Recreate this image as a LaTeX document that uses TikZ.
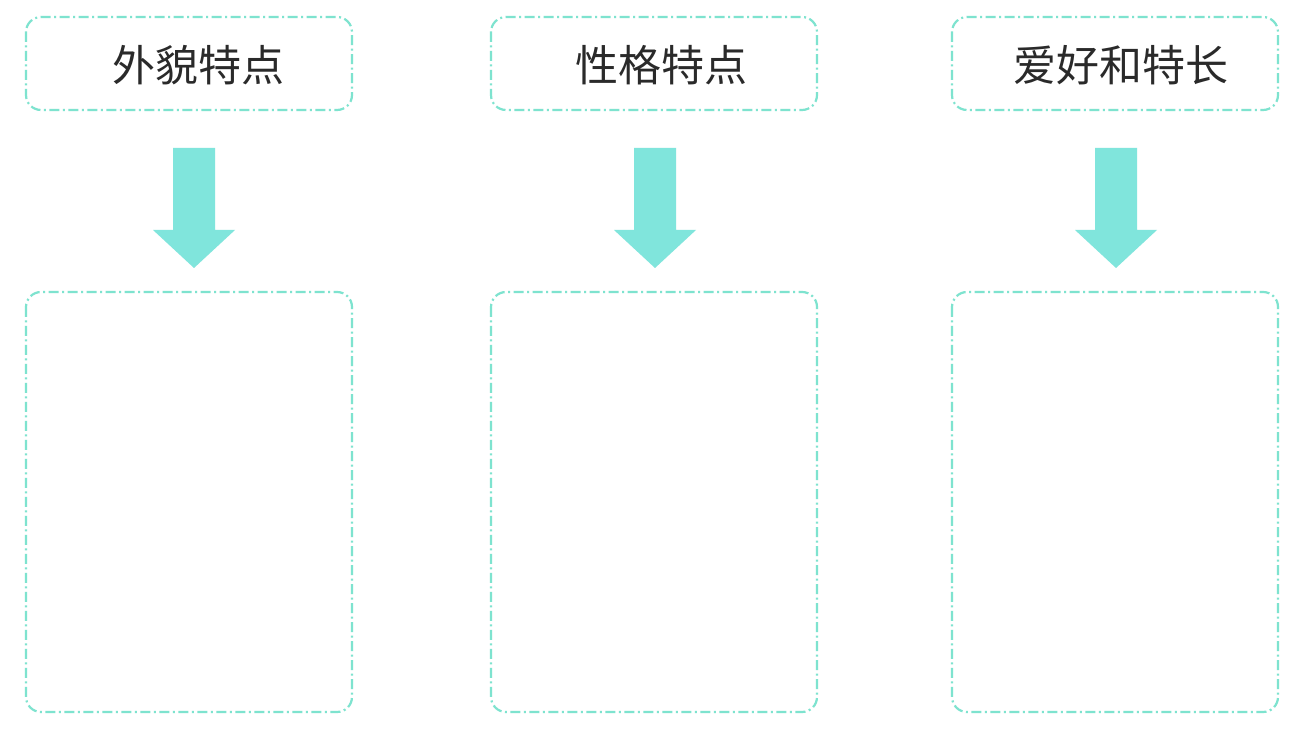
\documentclass[tikz,border=0pt]{standalone}
\usepackage{fontspec}
\newfontfamily\cjk{Noto Sans CJK SC}
\definecolor{mint}{HTML}{7EE3CF}
\definecolor{arrowc}{HTML}{80E5DC}
\definecolor{txt}{HTML}{2A2A2A}
\begin{document}
\begin{tikzpicture}[x=1pt,y=1pt,
  dbox/.style={draw=mint, line width=2.2pt, rounded corners=15pt,
    dash pattern=on 10pt off 3.5pt on 2pt off 3.5pt},
  lbl/.style={font=\cjk\fontsize{43}{50}\selectfont, text=txt}]
\useasboundingbox (0,0) rectangle (1293,744);
\fill[white] (0,0) rectangle (1293,744);
\foreach \n/\xa/\tx/\ax/\t in {1/26/198/194/外貌特点, 2/491/661/655/性格特点, 3/952/1121/1116/爱好和特长}{
  \pgfmathsetmacro\xb{\xa+326}
  \draw[dbox] (\xa,727) rectangle (\xb,634);
  \node[lbl] (t\n) at (\tx,679) {\t};
  \draw[dbox] (\xa,452) rectangle (\xb,32);
  \coordinate (a\n) at (\ax,596);
  \fill[arrowc] (\ax-21,596) -- (\ax+21,596) -- (\ax+21,514) -- (\ax+41,514)
    -- (\ax,476) -- (\ax-41,514) -- (\ax-21,514) -- cycle;
}
\end{tikzpicture}
\end{document}
